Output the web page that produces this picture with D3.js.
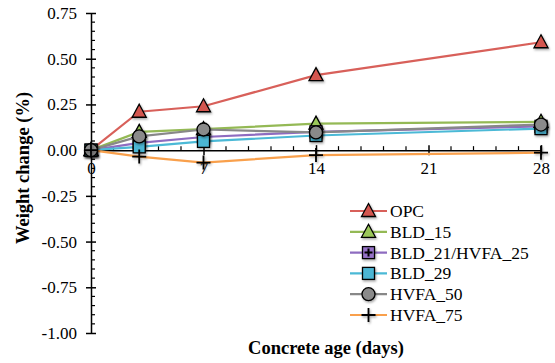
<!DOCTYPE html>
<html>
<head>
<meta charset="utf-8">
<script src="https://cdn.jsdelivr.net/npm/d3@7"></script>
<style>
  body { margin: 0; background: #fff; }
</style>
</head>
<body>
<div id="chart"></div>
<script>
// data
const ages = [0, 3, 7, 14, 28];
const seriesNames = ["OPC", "BLD_15", "BLD_21/HVFA_25", "BLD_29", "HVFA_50", "HVFA_75"];
const opc = [0, 0.21, 0.24, 0.41, 0.59];
const bld15 = [0, 0.10, 0.115, 0.145, 0.155];
const bld21 = [0, 0.04, 0.072, 0.10, 0.13];
const bld29 = [0, 0.018, 0.048, 0.08, 0.118];
const hvfa50 = [0, 0.075, 0.113, 0.097, 0.14];
const hvfa75 = [0, -0.035, -0.068, -0.027, -0.014];
const xTicks = [0, 7, 14, 21, 28];
const yTicks = [-1, -0.75, -0.5, -0.25, 0, 0.25, 0.5, 0.75];

const width = 555, height = 363;
const serif = '"Liberation Serif", Tinos, "Times New Roman", Times, "DejaVu Serif", serif';

const svg = d3.select("#chart").append("svg")
  .attr("width", width).attr("height", height)
  .attr("font-family", serif);

const defs = svg.append("defs");
const f = defs.append("filter").attr("id", "sh")
  .attr("x", "-50%").attr("y", "-50%").attr("width", "200%").attr("height", "200%");
f.append("feDropShadow").attr("dx", 1).attr("dy", 1.5).attr("stdDeviation", 1.2)
  .attr("flood-color", "#000").attr("flood-opacity", 0.35);

const xScale = d3.scaleLinear().domain([0, 28]).range([91, 541]);
const yScale = d3.scaleLinear().domain([-1, 0.75]).range([333, 13]);

const series = [
  {name: seriesNames[0], values: opc,    line: "#d8605a", fill: "#d4574f", shape: "tri"},
  {name: seriesNames[1], values: bld15,  line: "#94b955", fill: "#9bc75a", shape: "tri"},
  {name: seriesNames[2], values: bld21,  line: "#8e6cc0", fill: "#9672c8", shape: "plussq"},
  {name: seriesNames[3], values: bld29,  line: "#4bb9d6", fill: "#4cb6d4", shape: "sq"},
  {name: seriesNames[4], values: hvfa50, line: "#888888", fill: "#8a8a8a", shape: "circ"},
  {name: seriesNames[5], values: hvfa75, line: "#f9a04c", fill: "none",    shape: "plus"}
];

// y axis
const yAxis = svg.append("g")
  .attr("transform", `translate(${xScale(0)},0)`)
  .call(d3.axisLeft(yScale).tickValues(yTicks).tickSize(0).tickPadding(14)
    .tickFormat(d => d3.format(".2f")(d).replace("−", "-")));
yAxis.attr("font-family", serif);
yAxis.select(".domain").attr("stroke", "#000").attr("stroke-width", 1.5);
yAxis.selectAll("text").attr("font-size", 17).attr("fill", "#000");
yAxis.selectAll(".tick").append("line")
  .attr("x1", -5).attr("x2", 5).attr("stroke", "#000").attr("stroke-width", 1.5);
svg.append("g").selectAll("line")
  .data(d3.range(-1, 0.751, 0.05).filter(v => Math.abs(Math.round(v * 4) - v * 4) > 0.01))
  .join("line")
  .attr("x1", xScale(0)).attr("x2", xScale(0) + 4)
  .attr("y1", d => yScale(d)).attr("y2", d => yScale(d))
  .attr("stroke", "#000").attr("stroke-width", 1.2);

// x axis on zero line
const xAxis = svg.append("g")
  .attr("transform", `translate(0,${yScale(0)})`)
  .call(d3.axisBottom(xScale).tickValues(xTicks).tickSize(0).tickPadding(12));
xAxis.attr("font-family", serif);
xAxis.select(".domain").attr("stroke", "#000").attr("stroke-width", 1.5);
xAxis.selectAll("text").attr("font-size", 17).attr("fill", "#000");
xAxis.selectAll(".tick").append("line")
  .attr("y1", -5).attr("y2", 5).attr("stroke", "#000").attr("stroke-width", 1.5);
svg.append("g").selectAll("line")
  .data(d3.range(0, 28.01, 1.4).filter(v => Math.abs(v / 7 - Math.round(v / 7)) > 0.01))
  .join("line")
  .attr("x1", d => xScale(d)).attr("x2", d => xScale(d))
  .attr("y1", yScale(0)).attr("y2", yScale(0) - 4)
  .attr("stroke", "#000").attr("stroke-width", 1.2);

// axis titles
svg.append("text")
  .text("Concrete age (days)")
  .attr("x", 326).attr("y", 354)
  .attr("text-anchor", "middle")
  .attr("font-size", 18.5).attr("font-weight", "bold");

svg.append("text")
  .text("Weight change (%)")
  .attr("transform", `translate(29,168) rotate(-90)`)
  .attr("text-anchor", "middle")
  .attr("font-size", 18.5).attr("font-weight", "bold");

// marker drawing
function drawMarker(g, s, x, y) {
  const m = g.append("g").attr("transform", `translate(${x},${y})`).attr("filter", "url(#sh)");
  if (s.shape === "tri") {
    m.append("path").attr("d", "M0,-7.5 L7,5.5 L-7,5.5 Z")
      .attr("fill", s.fill).attr("stroke", "#000").attr("stroke-width", 1.3);
  } else if (s.shape === "sq" || s.shape === "plussq") {
    m.append("rect").attr("x", -6).attr("y", -6).attr("width", 12).attr("height", 12)
      .attr("fill", s.fill).attr("stroke", "#000").attr("stroke-width", 1.3);
    if (s.shape === "plussq") {
      m.append("path").attr("d", "M-4,0 H4 M0,-4 V4").attr("stroke", "#000").attr("stroke-width", 2);
    }
  } else if (s.shape === "circ") {
    m.append("circle").attr("r", 6.5)
      .attr("fill", s.fill).attr("stroke", "#000").attr("stroke-width", 1.3);
  } else if (s.shape === "plus") {
    m.append("path").attr("d", "M-7,0 H7 M0,-7 V7").attr("stroke", "#000").attr("stroke-width", 1.8);
  }
}

const line = d3.line().x((d, i) => xScale(ages[i])).y(d => yScale(d));

series.forEach(s => {
  svg.append("path").datum(s.values)
    .attr("d", line).attr("fill", "none")
    .attr("stroke", s.line).attr("stroke-width", 2.2);
});
series.forEach(s => {
  const g = svg.append("g");
  s.values.forEach((v, i) => drawMarker(g, s, xScale(ages[i]), yScale(v)));
});

// legend
const legend = svg.append("g").attr("transform", "translate(350,211)");
series.forEach((s, i) => {
  const row = legend.append("g").attr("transform", `translate(0,${i * 20.8})`);
  row.append("line").attr("x1", 0).attr("x2", 37).attr("stroke", s.line).attr("stroke-width", 2.2);
  drawMarker(row, s, 18.5, 0);
  row.append("text").text(s.name).attr("x", 40).attr("y", 6)
    .attr("font-size", 17.5).attr("fill", "#000");
});
</script>
</body>
</html>
